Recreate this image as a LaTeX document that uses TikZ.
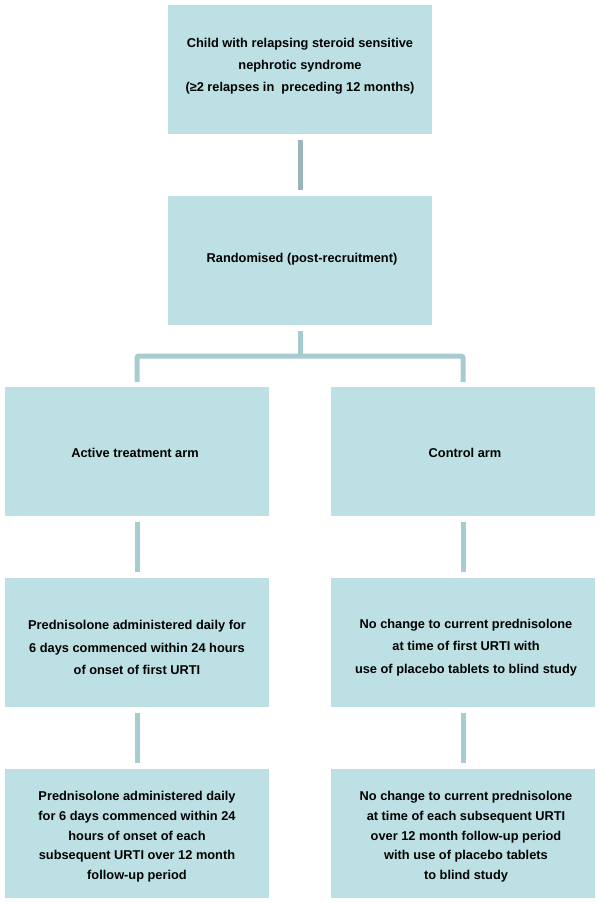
\documentclass[tikz,border=0pt]{standalone}
\usepackage{fontspec}
\setmainfont{Liberation Sans}
\definecolor{boxfill}{RGB}{188,224,228}
\definecolor{connA}{RGB}{154,182,186}
\definecolor{connB}{RGB}{167,204,208}
\begin{document}
\begin{tikzpicture}[x=1pt,y=1pt,
  box/.style={fill=boxfill,draw=none,minimum width=264pt,minimum height=129pt,inner sep=0pt,outer sep=0pt},
  txt/.style={align=center,font=\fontsize{12.8}{22}\selectfont\bfseries,inner sep=0pt},
  txtb/.style={align=center,font=\fontsize{12.8}{22.5}\selectfont\bfseries,inner sep=0pt},
  txtc/.style={align=center,font=\fontsize{12.8}{19.7}\selectfont\bfseries,inner sep=0pt},
  conn/.style={draw=connB,line width=5pt},
  connfirst/.style={draw=connA,line width=5pt}]
\useasboundingbox (0,0) rectangle (600,-904);
\fill[white] (0,0) rectangle (600,-904);
% boxes
\node[box] (top) at (300,-69.5) {};
\node[box] (rand) at (300,-260.5) {};
\node[box] (la) at (137,-451.5) {};
\node[box] (ra) at (463,-451.5) {};
\node[box] (lm) at (137,-642.5) {};
\node[box] (rm) at (463,-642.5) {};
\node[box] (lb) at (137,-833.5) {};
\node[box] (rb) at (463,-833.5) {};
% texts
\node[txt] (ttop) at (300,-65.8) {Child with relapsing steroid sensitive\\nephrotic syndrome\\(≥2 relapses in\ \ preceding 12 months)};
\node[txt] (trand) at (302,-259) {Randomised (post-recruitment)};
\node[txt] (tla) at (135,-452.7) {Active treatment arm};
\node[txt] (tra) at (465,-452.7) {Control arm};
\node[txtb] (tlm) at (137,-647.5) {Prednisolone administered daily for\\6 days commenced within 24 hours\\of onset of first URTI};
\node[txtb] (trm) at (466,-647.5) {No change to current prednisolone\\at time of first URTI with\\use of placebo tablets to blind study};
\node[txtc] (tlb) at (137,-836.7) {Prednisolone administered daily\\for 6 days commenced within 24\\hours of onset of each\\subsequent URTI over 12 month\\follow-up period};
\node[txtc] (trb) at (466,-836.7) {No change to current prednisolone\\at time of each subsequent URTI\\over 12 month follow-up period\\with use of placebo tablets\\to blind study};
% connectors
\draw[connfirst] ([yshift=-6pt]top.south) -- ([yshift=6pt]rand.north);
\coordinate (bar) at (300,-356);
\draw[conn] ([yshift=-6pt]rand.south) -- (bar);
\draw[conn,rounded corners=2pt] ([yshift=5pt]la.north) |- (bar) -| ([yshift=5pt]ra.north);
\draw[conn] ([yshift=-6pt]la.south) -- ([yshift=6pt]lm.north);
\draw[conn] ([yshift=-6pt]ra.south) -- ([yshift=6pt]rm.north);
\draw[conn] ([yshift=-6pt]lm.south) -- ([yshift=6pt]lb.north);
\draw[conn] ([yshift=-6pt]rm.south) -- ([yshift=6pt]rb.north);
\end{tikzpicture}
\end{document}
